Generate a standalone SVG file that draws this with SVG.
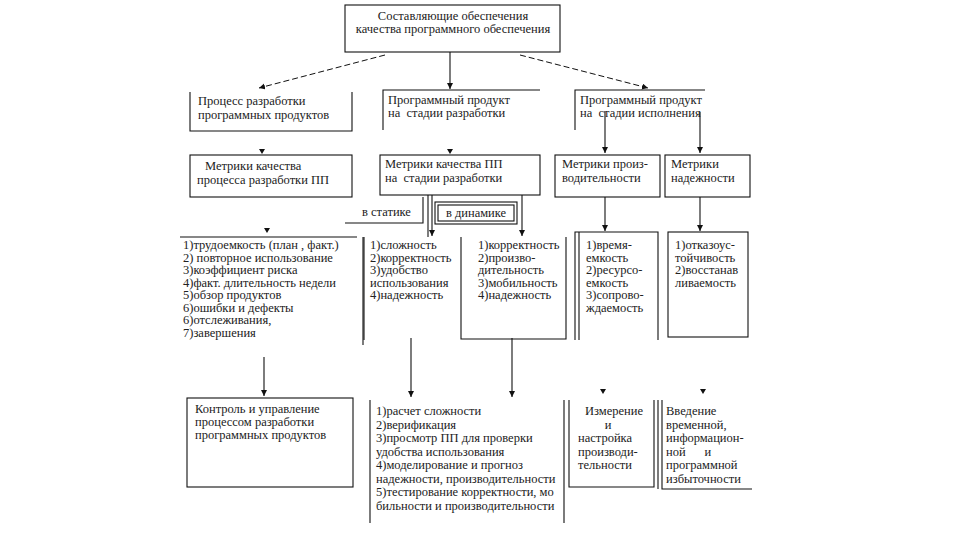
<svg xmlns="http://www.w3.org/2000/svg" xmlns:xlink="http://www.w3.org/1999/xlink" width="960" height="540" viewBox="0 0 960 540">
<style>
.b{fill:none;stroke:#111;stroke-width:1.1}
.t{font-size:12.5px;fill:#222}
.c{stroke:#111;stroke-width:1.1;fill:none}
.d{stroke:#111;stroke-width:1;fill:none;stroke-dasharray:6,3}
</style>
<defs>
<marker id="arr" markerWidth="8" markerHeight="8" refX="6" refY="3" orient="auto" markerUnits="userSpaceOnUse">
<path d="M0,0 L6,3 L0,6 Z" fill="#111"/>
</marker>
<path id="ah" d="M-3,-5 L3,-5 L0,0 Z" fill="#111"/>
</defs>
<rect width="960" height="540" fill="#fff"/>
<g font-family="Liberation Serif">

<g id="top">
<rect class="b" x="345" y="5" width="215" height="47"/>
<text class="t" x="453" y="20" text-anchor="middle">Составляющие обеспечения</text>
<text class="t" x="453" y="33" text-anchor="middle">качества программного обеспечения</text>
</g>

<g id="process">
<path class="b" d="M190,92 V131 H352 V92"/>
<text class="t" x="198" y="105">Процесс разработки</text>
<text class="t" x="198" y="119">программных продуктов</text>
</g>
<g id="product-dev">
<path class="b" d="M383,130 V90 H540"/>
<text class="t" x="388" y="104">Программный продукт</text>
<text class="t" x="388" y="117" xml:space="preserve">на  стадии разработки</text>
</g>
<g id="product-run">
<path class="b" d="M575,130 V90 H705"/>
<text class="t" x="580" y="104">Программный продукт</text>
<text class="t" x="580" y="117" xml:space="preserve">на  стадии исполнения</text>
</g>

<g id="metrics-process">
<rect class="b" x="190" y="155" width="162" height="42"/>
<text class="t" x="205" y="170">Метрики качества</text>
<text class="t" x="197" y="184">процесса разработки ПП</text>
</g>
<g id="metrics-pp">
<rect class="b" x="380" y="155" width="160" height="40"/>
<text class="t" x="385" y="168">Метрики качества ПП</text>
<text class="t" x="385" y="182" xml:space="preserve">на  стадии разработки</text>
</g>
<g id="metrics-perf">
<rect class="b" x="555" y="155" width="105" height="42"/>
<text class="t" x="562" y="168">Метрики произ-</text>
<text class="t" x="562" y="182">водительности</text>
</g>
<g id="metrics-rel">
<rect class="b" x="665" y="155" width="85" height="42"/>
<text class="t" x="671" y="168">Метрики</text>
<text class="t" x="671" y="182">надежности</text>
</g>

<g id="static">
<path class="b" d="M345,223 H423 V197"/>
<text class="t" x="362" y="216">в статике</text>
</g>
<g id="dynamic">
<rect class="b" x="435" y="202" width="82" height="22"/>
<rect class="b" x="438" y="205" width="76" height="16"/>
<text class="t" x="476" y="217" text-anchor="middle">в динамике</text>
</g>

<g id="list-process">
<path class="b" d="M180,237 H357 M363,237 V345"/>
<text class="t" x="183" y="249">1)трудоемкость (план , факт.)</text>
<text class="t" x="183" y="261.5">2) повторное использование</text>
<text class="t" x="183" y="274">3)коэффициент риска</text>
<text class="t" x="183" y="286.5">4)факт. длительность недели</text>
<text class="t" x="183" y="299">5)обзор продуктов</text>
<text class="t" x="183" y="311.5">6)ошибки и дефекты</text>
<text class="t" x="183" y="324">6)отслеживания,</text>
<text class="t" x="183" y="336.5">7)завершения</text>
</g>
<g id="list-static">
<path class="b" d="M364,237 V340"/>
<text class="t" x="370" y="249">1)сложность</text>
<text class="t" x="370" y="261.5">2)корректность</text>
<text class="t" x="370" y="274">3)удобство</text>
<text class="t" x="370" y="286.5">использования</text>
<text class="t" x="370" y="299">4)надежность</text>
</g>
<g id="list-dynamic">
<path class="b" d="M461,237 V339 H566 V237"/>
<text class="t" x="478" y="249">1)корректность</text>
<text class="t" x="478" y="261.5">2)произво-</text>
<text class="t" x="478" y="274">дительность</text>
<text class="t" x="478" y="286.5">3)мобильность</text>
<text class="t" x="478" y="299">4)надежность</text>
</g>
<g id="list-perf">
<path class="b" d="M575,340 V232 H658 V340 M579,340 V232"/>
<text class="t" x="586" y="249">1)время-</text>
<text class="t" x="586" y="261.5">емкость</text>
<text class="t" x="586" y="274">2)ресурсо-</text>
<text class="t" x="586" y="286.5">емкость</text>
<text class="t" x="586" y="299">3)сопрово-</text>
<text class="t" x="586" y="312">ждаемость</text>
</g>
<g id="list-rel">
<rect class="b" x="668" y="232" width="80" height="105"/>
<text class="t" x="675" y="249">1)отказоус-</text>
<text class="t" x="675" y="261.5">тойчивость</text>
<text class="t" x="675" y="274">2)восстанав</text>
<text class="t" x="675" y="286.5">ливаемость</text>
</g>

<g id="control">
<rect class="b" x="187" y="398" width="166" height="89"/>
<text class="t" x="195" y="413">Контроль и управление</text>
<text class="t" x="195" y="426">процессом разработки</text>
<text class="t" x="195" y="439">программных продуктов</text>
</g>
<g id="methods">
<path class="b" d="M370,400 V523 M564,400 V523"/>
<text class="t" x="376" y="415">1)расчет сложности</text>
<text class="t" x="376" y="428.5">2)верификация</text>
<text class="t" x="376" y="442">3)просмотр ПП для проверки</text>
<text class="t" x="376" y="455.5">удобства использования</text>
<text class="t" x="376" y="469">4)моделирование и прогноз</text>
<text class="t" x="376" y="482.5">надежности, производительности</text>
<text class="t" x="376" y="496">5)тестирование корректности, мо</text>
<text class="t" x="376" y="509.5">бильности и производительности</text>
</g>
<g id="measure">
<path class="b" d="M569,400 V487 H654 V400"/>
<text class="t" x="585" y="415">Измерение</text>
<text class="t" x="608" y="428.5" text-anchor="middle">и</text>
<text class="t" x="578" y="442">настройка</text>
<text class="t" x="578" y="455.5">производи-</text>
<text class="t" x="578" y="469">тельности</text>
</g>
<g id="redundancy">
<path class="b" d="M658,400 V489 M662,400 V489 H752"/>
<text class="t" x="666" y="415">Введение</text>
<text class="t" x="666" y="428.5">временной,</text>
<text class="t" x="666" y="442">информацион-</text>
<text class="t" x="666" y="455.5" xml:space="preserve">ной      и</text>
<text class="t" x="666" y="469">программной</text>
<text class="t" x="666" y="482.5">избыточности</text>
</g>
</g>

<g id="connectors">
<line class="d" x1="385" y1="55" x2="259" y2="88" marker-end="url(#arr)"/>
<line class="d" x1="520" y1="55" x2="648" y2="88" marker-end="url(#arr)"/>
<line class="c" x1="450" y1="52" x2="450" y2="89" marker-end="url(#arr)"/>
<use xlink:href="#ah" x="262" y="154"/>
<use xlink:href="#ah" x="450" y="154"/>
<line class="c" x1="605" y1="112" x2="605" y2="153" marker-end="url(#arr)"/>
<line class="c" x1="700" y1="112" x2="700" y2="153" marker-end="url(#arr)"/>
<use xlink:href="#ah" x="267" y="233"/>
<line class="c" x1="428" y1="195" x2="428" y2="237"/>
<line class="c" x1="432" y1="195" x2="432" y2="236" marker-end="url(#arr)"/>
<line class="c" x1="522" y1="195" x2="522" y2="236" marker-end="url(#arr)"/>
<line class="c" x1="605" y1="197" x2="605" y2="231" marker-end="url(#arr)"/>
<line class="c" x1="700" y1="197" x2="700" y2="231" marker-end="url(#arr)"/>
<line class="c" x1="264" y1="357" x2="264" y2="396" marker-end="url(#arr)"/>
<line class="c" x1="411" y1="338" x2="411" y2="397" marker-end="url(#arr)"/>
<line class="c" x1="512" y1="338" x2="512" y2="397" marker-end="url(#arr)"/>
<use xlink:href="#ah" x="603" y="394"/>
<use xlink:href="#ah" x="703" y="394"/>
</g>
</svg>
